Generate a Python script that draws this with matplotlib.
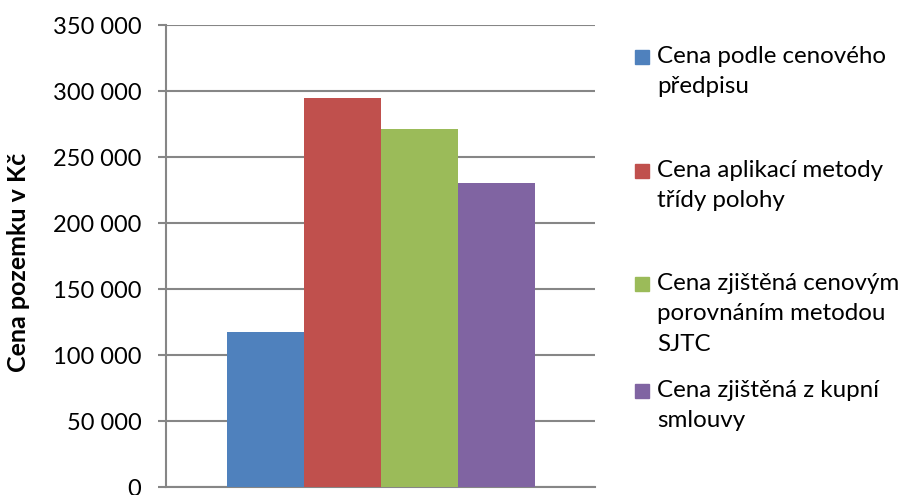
import matplotlib
matplotlib.use("Agg")
import matplotlib.pyplot as plt
from matplotlib.patches import Rectangle

# data
series = [
    "Cena podle cenového\npředpisu",
    "Cena aplikací metody\ntřídy polohy",
    "Cena zjištěná cenovým\nporovnáním metodou\nSJTC",
    "Cena zjištěná z kupní\nsmlouvy",
]
values = [117500, 294500, 271000, 230000]
colors = ["#4F81BD", "#C0504D", "#9BBB59", "#8064A2"]
yticks = [0, 50000, 100000, 150000, 200000, 250000, 300000, 350000]
ylabel = "Cena pozemku v Kč"

plt.rcParams["font.family"] = ["Lato", "DejaVu Sans"]

fig = plt.figure(figsize=(9.05, 4.95), dpi=100)
ax = fig.add_axes([166 / 905, 8 / 495, 429 / 905, 462 / 495])

w = 77 / 429
for i, (v, c) in enumerate(zip(values, colors)):
    ax.bar((i - 1.5) * w, v, width=w, color=c, zorder=3)

ax.set_xlim(-0.5, 0.5)
ax.set_ylim(0, 350000)
ax.set_yticks(yticks)
ax.set_yticklabels([f"{t:,}".replace(",", " ") for t in yticks], fontsize=17)
ax.set_xticks([])
ax.grid(axis="y", color="#868686", linewidth=1.5, zorder=0)
for s in ["top", "right"]:
    ax.spines[s].set_visible(False)
for s in ["left", "bottom"]:
    ax.spines[s].set_color("#868686")
    ax.spines[s].set_linewidth(1.5)
ax.tick_params(axis="y", length=5.8, width=1.5, color="#868686", pad=12)
fig.text(19 / 905, 1 - 262 / 495, ylabel, fontsize=18, fontweight="bold",
         rotation=90, ha="center", va="center")

# legend drawn like Excel: square aligned with first line
first_line_y = [57, 171, 284, 391]
for lab, c, yc in zip(series, colors, first_line_y):
    fig.patches.append(Rectangle((635 / 905, 1 - (yc + 7) / 495), 14 / 905, 14 / 495,
                                 transform=fig.transFigure, color=c))
    fig.text(657 / 905, 1 - (yc - 11) / 495, lab, fontsize=17.4, va="top",
             linespacing=1.55)

fig.savefig("out.png", dpi=100)
